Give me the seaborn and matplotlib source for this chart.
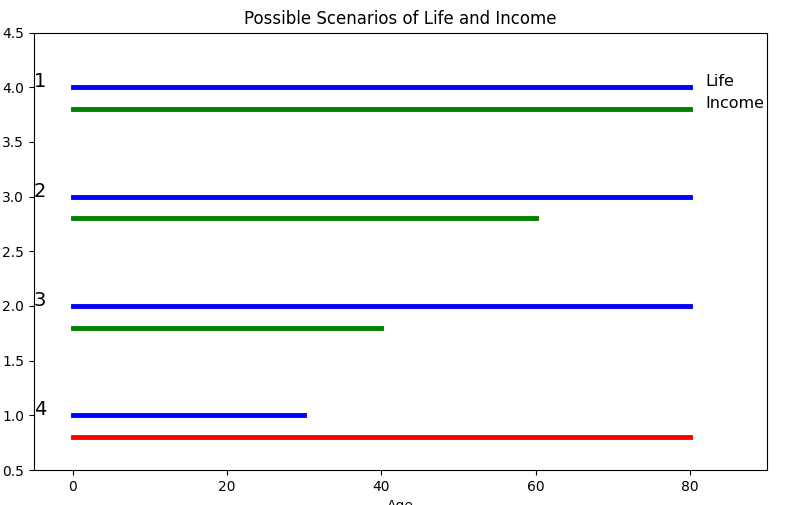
import matplotlib
matplotlib.use("Agg")
import matplotlib.pyplot as plt
import seaborn as sns
import pandas as pd

scenarios = ["1", "2", "3", "4"]
life_end = [80, 80, 80, 30]
income_end = [80, 60, 40, 80]
life_y = [4.0, 3.0, 2.0, 1.0]
income_y = [3.8, 2.8, 1.8, 0.8]
income_colors = ["green", "green", "green", "red"]
life_color = "blue"

rows = []
palette = {}
for i, s in enumerate(scenarios):
    lid = f"life{s}"
    iid = f"income{s}"
    palette[lid] = life_color
    palette[iid] = income_colors[i]
    for x in (0, life_end[i]):
        rows.append({"Age": x, "y": life_y[i], "seg": lid})
    for x in (0, income_end[i]):
        rows.append({"Age": x, "y": income_y[i], "seg": iid})
df = pd.DataFrame(rows)

fig = plt.figure(figsize=(7.88, 5.05), dpi=100)
ax = fig.add_axes([34 / 788, 35 / 505, 733 / 788, 437.5 / 505])
sns.lineplot(data=df, x="Age", y="y", hue="seg", palette=palette,
             estimator=None, sort=False, linewidth=3.5, legend=False, ax=ax)

for i, s in enumerate(scenarios):
    ax.text(-5, life_y[i], s, fontsize=14)
ax.text(82, 4.01, "Life", fontsize=11.5)
ax.text(82, 3.81, "Income", fontsize=11.5)

ax.set_xlim(-5, 90)
ax.set_ylim(0.5, 4.5)
ax.set_xticks([0, 20, 40, 60, 80])
ax.set_xlabel("Age")
ax.set_ylabel("")
ax.set_title("Possible Scenarios of Life and Income")
fig.savefig("out.png", dpi=100)
